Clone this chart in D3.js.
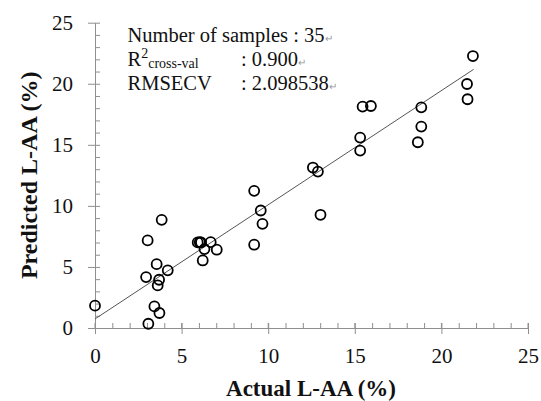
<!DOCTYPE html>
<html>
<head>
<meta charset="utf-8">
<script src="https://cdn.jsdelivr.net/npm/d3@7"></script>
<style>
  html, body { margin: 0; padding: 0; background: #fff; }
  svg { display: block; }
</style>
</head>
<body>
<svg id="chart" width="541" height="401"></svg>
<script>
// ---- data ----
const actual = [0.00, 3.08, 3.43, 3.72, 2.95, 3.04, 3.56, 3.70, 3.62, 3.85, 4.20,
  5.93, 6.12, 6.05, 6.32, 6.22, 6.68, 7.03, 9.19, 9.19, 9.57, 9.67, 12.58, 12.87, 13.02,
  15.31, 15.31, 15.45, 15.93, 18.64, 18.84, 18.84, 21.48, 21.51, 21.82];
const predicted = [1.83, 0.35, 1.77, 1.23, 4.17, 7.17, 5.23, 3.95, 3.49, 8.86, 4.72,
  7.01, 7.01, 7.02, 6.46, 5.53, 7.03, 6.41, 11.23, 6.82, 9.62, 8.53, 13.14, 12.81, 9.27,
  15.59, 14.53, 18.13, 18.18, 15.21, 18.07, 16.49, 19.98, 18.73, 22.27];
const fitX = [0, 21.86];
const fitY = [0.74, 21.18];
const xTicks = [0, 5, 10, 15, 20, 25];
const yTicks = [0, 5, 10, 15, 20, 25];
const minorTicks = d3.range(0, 26, 1);
const statLines = [
  {label: "Number of samples : 35", value: null},
  {label: "R", sup: "2", sub: "cross-val", value: ": 0.900"},
  {label: "RMSECV", value: ": 2.098538"}
];
const xTitle = "Actual L-AA (%)";
const yTitle = "Predicted L-AA (%)";

// ---- drawing ----
const svg = d3.select("#chart");
const axisColor = "#8f8f8f";
const serif = "'Liberation Serif', 'Times New Roman', serif";

const x = d3.scaleLinear().domain([0, 25]).range([95, 528]);
const y = d3.scaleLinear().domain([0, 25]).range([328, 22.7]);

// minor ticks (inside)
svg.append("g").attr("transform", `translate(0,${y(0)})`)
  .call(d3.axisBottom(x).tickValues(minorTicks).tickSize(-5).tickFormat(""))
  .call(g => g.select(".domain").remove());
svg.append("g").attr("transform", `translate(${x(0)},0)`)
  .call(d3.axisLeft(y).tickValues(minorTicks).tickSize(-5).tickFormat(""))
  .call(g => g.select(".domain").remove());

// major axes
const gx = svg.append("g").attr("transform", `translate(0,${y(0)})`)
  .call(d3.axisBottom(x).tickValues(xTicks).tickSizeInner(6).tickSizeOuter(0).tickPadding(14));
const gy = svg.append("g").attr("transform", `translate(${x(0)},0)`)
  .call(d3.axisLeft(y).tickValues(yTicks).tickSizeInner(7).tickSizeOuter(0).tickPadding(15));

svg.selectAll(".tick line, .domain").attr("stroke", axisColor).attr("stroke-width", 1);
[gx, gy].forEach(g => g.selectAll("text")
  .attr("font-family", serif).attr("font-size", 21).attr("fill", "#111"));

// major ticks extend inside too
svg.append("g").selectAll("line").data(xTicks).join("line")
  .attr("x1", d => x(d)).attr("x2", d => x(d))
  .attr("y1", y(0)).attr("y2", y(0) - 5).attr("stroke", axisColor);

// fit line
svg.append("line")
  .attr("x1", x(fitX[0])).attr("y1", y(fitY[0]))
  .attr("x2", x(fitX[1])).attr("y2", y(fitY[1]))
  .attr("stroke", "#555").attr("stroke-width", 1);

// points
svg.append("g").selectAll("circle").data(actual.map((a, i) => [a, predicted[i]]))
  .join("circle")
  .attr("cx", d => x(d[0])).attr("cy", d => y(d[1]))
  .attr("r", 5).attr("fill", "none").attr("stroke", "#000").attr("stroke-width", 1.8);

// stats text
const st = svg.append("g").attr("font-family", serif).attr("fill", "#111");
const lineY = [41.7, 65.7, 89.5];
statLines.forEach((s, i) => {
  const t = st.append("text").attr("x", 127.5).attr("y", lineY[i]).attr("font-size", 20.5);
  t.append("tspan").text(s.label);
  if (s.sup) {
    t.append("tspan").attr("font-size", 14).attr("dy", -8).text(s.sup);
    t.append("tspan").attr("font-size", 14).attr("dy", 10).text(s.sub);
  }
  if (!s.value) {
    t.append("tspan").attr("font-size", 10).attr("fill", "#999").attr("dy", s.sup ? 0 : 0).text("\u21B5");
  } else {
    const v = st.append("text").attr("x", 241).attr("y", lineY[i]).attr("font-size", 20.5);
    v.append("tspan").text(s.value);
    v.append("tspan").attr("font-size", 10).attr("fill", "#999").text("\u21B5");
  }
});

// axis titles
svg.append("text").attr("x", 311).attr("y", 396).attr("text-anchor", "middle")
  .attr("font-family", serif).attr("font-weight", "bold").attr("font-size", 23)
  .attr("fill", "#111").text(xTitle);
svg.append("text").attr("transform", `translate(37,${(y(0) + y(25)) / 2}) rotate(-90)`)
  .attr("text-anchor", "middle")
  .attr("font-family", serif).attr("font-weight", "bold").attr("font-size", 24)
  .attr("fill", "#111").text(yTitle);
</script>
</body>
</html>
